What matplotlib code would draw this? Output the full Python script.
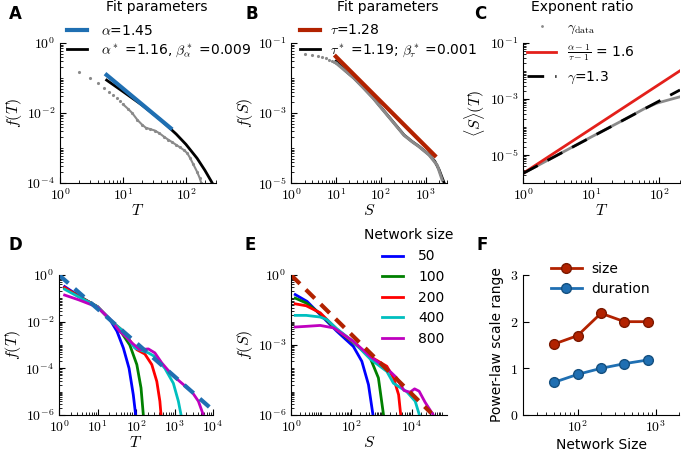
import numpy as np
import matplotlib
matplotlib.use('Agg')
import matplotlib.pyplot as plt
from matplotlib.lines import Line2D
from matplotlib.ticker import FuncFormatter, LogLocator, NullFormatter

plt.rcParams['mathtext.fontset'] = 'cm'
plt.rcParams['font.family'] = 'DejaVu Sans'

# ---- panel A: avalanche durations ----
dur_T = [2, 3, 4, 5, 6, 7, 8, 9, 10, 12, 14, 17, 20, 23, 27, 32, 38, 45, 52, 60,
         70, 80, 93, 105, 117, 130, 150, 165, 175]
dur_f = [0.151, 0.0977, 0.0708, 0.0513, 0.0407, 0.0331, 0.0269, 0.0219, 0.0178,
         0.0132, 0.0100, 0.0063, 0.00468, 0.0038, 0.00347, 0.00316, 0.00263,
         0.00209, 0.00174, 0.00148, 0.00123, 0.00105, 8.7e-4, 7.1e-4, 5.1e-4,
         3.5e-4, 2.1e-4, 1.4e-4, 1.0e-4]
alpha_T = [5.5, 57]
alpha_f = [0.122, 0.0037]
alpha_star_T = [5.5, 10, 20, 40, 70, 100, 150, 200, 250, 270]
alpha_star_f = [0.087, 0.041, 0.0169, 0.0063, 0.0025, 0.00127, 5.1e-4, 2.3e-4,
                1.15e-4, 0.9e-4]

# ---- panel B: avalanche sizes ----
size_S = [2, 3, 4, 5, 6, 7, 8, 9, 10, 16, 25, 40, 68, 100, 186, 331, 501, 708,
          1200, 1820, 2340]
size_f = [0.049, 0.0457, 0.0427, 0.0389, 0.0363, 0.0331, 0.0309, 0.0288, 0.0269,
          0.0162, 0.0100, 0.0054, 0.00263, 0.00145, 5.6e-4, 2.3e-4, 1.51e-4,
          1.10e-4, 6.3e-5, 3.2e-5, 1.23e-5]
tau_S = [10, 1600]
tau_f = [0.041, 6.1e-5]
tau_star_S = [10, 16, 25, 40, 68, 100, 186, 331, 501, 708, 1200, 1600, 2000, 2300, 2600]
tau_star_f = [0.030, 0.0165, 0.0101, 0.0055, 0.00268, 0.00148, 5.7e-4, 2.35e-4,
              1.53e-4, 1.12e-4, 6.4e-5, 4.2e-5, 2.4e-5, 1.5e-5, 1e-5]

# ---- panel C: mean size vs duration ----
gam_T = [1, 10, 30, 60, 90, 130, 200]
gam_S = [2.2e-6, 4.4e-5, 1.8e-4, 4.5e-4, 7.0e-4, 9.0e-4, 1.2e-3]
ratio_T = [1, 200]
ratio_S = [2.2e-6, 1.02e-2]
gfit_T = [1, 200]
gfit_S = [2.2e-6, 2.1e-3]

# ---- panel D: duration distributions per network size ----
net_sizes = [50, 100, 200, 400, 800]
net_colors = ['b', 'g', 'r', 'c', 'm']
D_T = [
    [1.4, 3.2, 10, 20, 32, 47, 66, 85, 98],
    [1.4, 3.2, 10, 23, 43, 69, 105, 135, 155],
    [1.4, 3.2, 10, 23, 43, 105, 170, 257, 347, 417, 447],
    [1.4, 3.2, 10, 23, 43, 93, 209, 309, 562, 933, 1260, 1480],
    [1.4, 3.2, 10, 23, 38, 56, 78, 126, 209, 309, 468, 851, 1550, 2820, 4170, 5620],
]
D_f = [
    [0.32, 0.13, 0.042, 0.014, 0.0039, 7.4e-4, 1.0e-4, 7.4e-6, 1e-6],
    [0.275, 0.126, 0.044, 0.0105, 0.0032, 1.0e-3, 1.45e-4, 1.45e-5, 1e-6],
    [0.29, 0.123, 0.044, 0.0105, 0.0044, 6.3e-4, 4.1e-4, 1.45e-4, 2.75e-5, 3.9e-6, 1e-6],
    [0.245, 0.117, 0.044, 0.0105, 0.0044, 7.4e-4, 4.6e-4, 3.2e-4, 1.0e-4, 2.3e-5,
     3.9e-6, 1e-6],
    [0.138, 0.087, 0.042, 0.011, 0.0038, 0.0022, 0.00123, 6.3e-4, 6.8e-4, 4.6e-4,
     1.7e-4, 5.4e-5, 2.3e-5, 1.0e-5, 3.9e-6, 1e-6],
]
D_fit_T = [1, 1e4]
D_fit_f = [1.0, 1.6e-6]

# ---- panel E: size distributions per network size ----
E_S = [
    [1.38, 3.4, 9.3, 33, 117, 224, 372, 525],
    [1.38, 3.2, 9.3, 33, 117, 224, 427, 794, 1175],
    [1.38, 3.2, 9.3, 33, 117, 427, 1510, 2510, 3720, 4370],
    [1.38, 3.2, 9.3, 15.5, 33, 117, 427, 1510, 2510, 6920, 13200, 18200],
    [1.38, 3.2, 9.3, 26, 117, 427, 1510, 3160, 5620, 8910, 12600, 17800, 28200, 52500],
]
E_f = [
    [0.145, 0.074, 0.020, 0.0039, 8.7e-4, 2.0e-4, 2.0e-5, 1e-6],
    [0.102, 0.063, 0.022, 0.0044, 0.00126, 6.3e-4, 2.75e-4, 3.9e-5, 1e-6],
    [0.058, 0.048, 0.024, 0.0047, 0.00132, 3.2e-4, 1.23e-4, 3.9e-5, 7.4e-6, 1e-6],
    [0.0186, 0.0186, 0.0158, 0.0123, 0.005, 0.00138, 2.5e-4, 7.4e-5, 2.3e-5, 1.0e-5,
     3.9e-6, 1e-6],
    [0.0059, 0.0063, 0.0069, 0.0054, 0.00145, 3.2e-4, 1.0e-4, 4.0e-5, 1.12e-5, 9.5e-6,
     1.32e-5, 1.05e-5, 3.5e-6, 1e-6],
]
E_fit_S = [1, 4.5e4]
E_fit_f = [1.0, 1.2e-6]

# ---- panel F: power-law range ----
F_N = [50, 100, 200, 400, 800]
F_size = [1.52, 1.70, 2.18, 2.0, 2.0]
F_dur = [0.70, 0.87, 1.0, 1.1, 1.18]

BLUE = '#1f6fb2'
BROWN = '#b22200'
GRAY = '#8a8a8a'

W, H = 681, 454
fig = plt.figure(figsize=(W / 100, H / 100), dpi=100)


def box(x0, x1, y0, y1):
    return [x0 / W, 1 - y1 / H, (x1 - x0) / W, (y1 - y0) / H]


def fpt(x, y):
    return (x / W, 1 - y / H)


def logfmt(v, pos):
    return r'$10^{%d}$' % int(round(np.log10(v)))


def style(ax, xt=None, yt=None, logx=True, logy=True):
    for s in ['top', 'right']:
        ax.spines[s].set_visible(False)
    ax.tick_params(which='both', direction='in', top=False, right=False,
                   labelsize=10)
    ax.tick_params(which='major', length=4)
    ax.tick_params(which='minor', length=2)
    if logx:
        ax.set_xscale('log')
        ax.set_xticks(xt)
        ax.xaxis.set_major_formatter(FuncFormatter(logfmt))
        ax.xaxis.set_minor_locator(LogLocator(base=10, subs=np.arange(1, 10), numticks=100))
        ax.xaxis.set_minor_formatter(NullFormatter())
    if logy:
        ax.set_yscale('log')
        ax.set_yticks(yt)
        ax.yaxis.set_major_formatter(FuncFormatter(logfmt))
        ax.yaxis.set_minor_locator(LogLocator(base=10, subs=np.arange(1, 10), numticks=100))
        ax.yaxis.set_minor_formatter(NullFormatter())


def labels(ax, xl, yl):
    ax.set_xlabel(xl, fontsize=11.5, labelpad=0)
    ax.set_ylabel(yl, fontsize=11.5, labelpad=2)


def title_at(txt, x, y):
    fig.text(x / W, 1 - y / H, txt, fontsize=10, ha='center', va='center')


leg_kw = dict(frameon=False, fontsize=10, borderpad=0, borderaxespad=0,
              bbox_transform=fig.transFigure, loc='center left')

# A
axA = fig.add_axes(box(60, 216, 43, 183))
axA.plot(dur_T, dur_f, '.', color=GRAY, ms=2.5)
axA.plot(dur_T[8:], dur_f[8:], '-', color=GRAY, lw=1.5)
axA.plot(alpha_star_T, alpha_star_f, color='black', lw=2, label=r'$\alpha^*$ =1.16, $\beta^*_\alpha$ =0.009')
axA.plot(alpha_T, alpha_f, color=BLUE, lw=3, label=r'$\alpha$=1.45')
style(axA, [1, 10, 100], [1e-4, 1e-2, 1])
axA.set_xlim(1, 300)
axA.set_ylim(1e-4, 1)
labels(axA, r'$T$', r'$f(T)$')
h, l = axA.get_legend_handles_labels()
axA.legend(h[::-1], l[::-1], bbox_to_anchor=fpt(67, 41.5),
           handlelength=1.45, handletextpad=1.0, labelspacing=0.35, **leg_kw)
title_at('Fit parameters', 157, 7)

# B
axB = fig.add_axes(box(291, 447, 43, 183))
axB.plot(tau_star_S, tau_star_f, color='black', lw=2, label=r'$\tau^*$ =1.19; $\beta^*_\tau$ =0.001')
axB.plot(size_S[:9], size_f[:9], '.', color=GRAY, ms=2.5)
axB.plot(size_S[8:], size_f[8:], '-', color=GRAY, lw=2.2)
axB.plot(tau_S, tau_f, color=BROWN, lw=3, label=r'$\tau$=1.28')
style(axB, [1, 10, 100, 1000], [1e-5, 1e-3, 1e-1])
axB.set_xlim(1, 3000)
axB.set_ylim(1e-5, 0.1)
labels(axB, r'$S$', r'$f(S)$')
h, l = axB.get_legend_handles_labels()
axB.legend(h[::-1], l[::-1], bbox_to_anchor=fpt(300, 41.5),
           handlelength=1.45, handletextpad=0.7, labelspacing=0.35, **leg_kw)
title_at('Fit parameters', 388, 7)

# C
axC = fig.add_axes(box(523, 680, 43, 183))
axC.plot(gam_T, gam_S, color=GRAY, lw=2)
axC.plot(ratio_T, ratio_S, color='#e3201b', lw=2)
axC.plot(gfit_T, gfit_S, color='black', lw=2, dashes=(6, 4))
style(axC, [1, 10, 100], [1e-5, 1e-3, 1e-1])
axC.set_xlim(1, 200)
axC.set_ylim(1e-6, 0.1)
labels(axC, r'$T$', r'$\langle S\rangle(T)$')
hC = [Line2D([], [], ls='none', marker='.', ms=2, color=GRAY),
      Line2D([], [], color='#e3201b', lw=2),
      Line2D([], [], color='black', lw=2, dashes=(6, 4))]
lC = [r'$\gamma_{\rm data}$', r'$\frac{\alpha-1}{\tau-1}$ = 1.6', r'$\gamma$=1.3']
axC.legend(hC, lC, bbox_to_anchor=fpt(527, 53),
           handlelength=2.1, handletextpad=0.8, labelspacing=0.48, **leg_kw)
title_at('Exponent ratio', 582, 7)

# D
axD = fig.add_axes(box(59, 213, 275, 415))
for T, f, c in zip(D_T, D_f, net_colors):
    axD.plot(T, f, color=c, lw=2)
axD.plot(D_fit_T, D_fit_f, color=BLUE, lw=3, dashes=(3, 2))
style(axD, [1, 10, 100, 1000, 1e4], [1e-6, 1e-4, 1e-2, 1])
axD.set_xlim(1, 1e4)
axD.set_ylim(1e-6, 1)
labels(axD, r'$T$', r'$f(T)$')

# E
axE = fig.add_axes(box(291, 447, 275, 415))
for S, f, c, n in zip(E_S, E_f, net_colors, net_sizes):
    axE.plot(S, f, color=c, lw=2, label=str(n))
axE.plot(E_fit_S, E_fit_f, color=BROWN, lw=3, dashes=(3, 2))
style(axE, [1, 100, 1e4], [1e-6, 1e-3, 1])
axE.set_xlim(1, 1.5e5)
axE.set_ylim(1e-6, 1)
labels(axE, r'$S$', r'$f(S)$')
axE.legend(bbox_to_anchor=fpt(382, 297.5),
           handlelength=1.5, handletextpad=1.1, labelspacing=0.47, **leg_kw)
title_at('Network size', 409, 235)

# F
axF = fig.add_axes(box(523, 679, 275, 415))
axF.plot(F_N, F_size, '-o', color=BROWN, lw=2, ms=7, mec='#7a1800', label='size')
axF.plot(F_N, F_dur, '-o', color=BLUE, lw=2, ms=7, mec='#15507f', label='duration')
style(axF, [100, 1000], None, logy=False)
axF.set_xlim(20, 2000)
axF.set_ylim(0, 3)
axF.set_yticks([0, 1, 2, 3])
axF.yaxis.set_major_formatter(FuncFormatter(lambda v, p: r'$%d$' % v))
axF.set_xlabel('Network Size', fontsize=10, labelpad=2)
axF.set_ylabel('Power-law scale range', fontsize=10, labelpad=4)
axF.legend(bbox_to_anchor=fpt(551, 279), handlelength=2.2, handletextpad=0.7,
           labelspacing=0.44, **leg_kw)

for lab, x, y in [('A', 15, 14), ('B', 252, 14), ('C', 480, 14),
                  ('D', 15, 245), ('E', 250, 245), ('F', 482, 245)]:
    fig.text(x / W, 1 - y / H, lab, fontsize=12, fontweight='bold', ha='center', va='center')

fig.savefig('out.png', dpi=100)
